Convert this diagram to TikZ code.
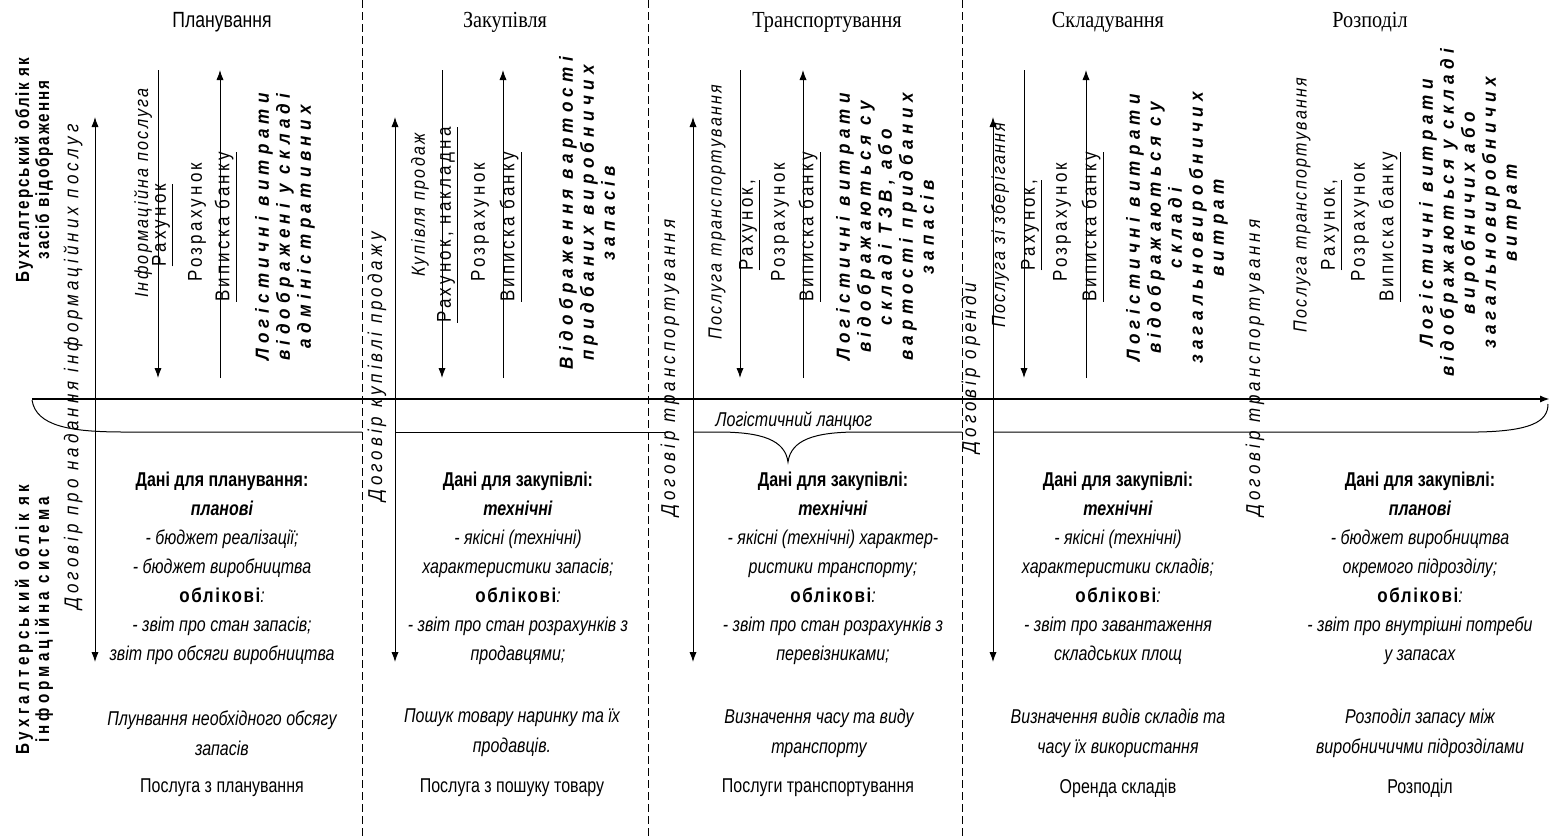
\documentclass[tikz,border=0pt]{standalone}
\usepackage{fontspec}
\setmainfont{Liberation Sans}[FakeStretch=0.8]
\newfontfamily\headserif{Liberation Serif}[FakeStretch=0.88]
\newfontfamily\spacedfont{Liberation Sans}[FakeStretch=0.85,LetterSpace=12]
\newfontfamily\docfont{Liberation Sans}[FakeStretch=0.85,LetterSpace=16]
\newfontfamily\contractfont{Liberation Sans}[FakeStretch=0.85,LetterSpace=20]
\newfontfamily\widefont{Liberation Sans}[FakeStretch=0.9,LetterSpace=28]
\newfontfamily\sidefont{Liberation Sans}[FakeStretch=0.8,LetterSpace=10]
\newfontfamily\sidewidefont{Liberation Sans}[FakeStretch=0.8,LetterSpace=22]
\newfontfamily\acctfont{Liberation Sans}[FakeStretch=0.85,LetterSpace=8]
\usetikzlibrary{arrows.meta}

\newcommand\kindof[1]{\textbf{\textit{#1}}}
\newcommand\acct{{\acctfont\bfseries облікові}\textit{:}}

\begin{document}
\begin{tikzpicture}[x=0.5pt,y=-0.5pt,>={Latex[length=5pt,width=3.6pt]},line width=0.5pt,
    head/.style={font=\headserif\fontsize{11.5}{13}\selectfont},
    vlab/.style={rotate=90,font=\spacedfont\itshape\fontsize{9.5}{11}\selectfont},
    vdoc/.style={rotate=90,font=\docfont\fontsize{10}{11}\selectfont},
    vbold/.style={rotate=90,align=center,font=\widefont\bfseries\itshape\fontsize{9.5}{10.5}\selectfont},
    contract/.style={rotate=90,font=\contractfont\itshape\fontsize{10}{11}\selectfont},
    side/.style={rotate=90,align=center,font=\sidefont\bfseries\fontsize{9.5}{7}\selectfont},
    data/.style={align=center,font=\fontsize{10}{14.5}\selectfont},
    task/.style={align=center,font=\itshape\fontsize{10}{15}\selectfont},
    service/.style={font=\fontsize{10}{12}\selectfont},
    sep/.style={dash pattern=on 4pt off 2pt}]
\useasboundingbox (0,0) rectangle (1554,837);

% section borders
\foreach \x in {362,648,962}
  \draw[sep] (\x,0) -- (\x,837);

% headers
\node[font=\normalfont\fontsize{11}{13}\selectfont] (h1) at (222,22) {Планування};
\node[head] (h2) at (505,22) {Закупівля};
\node[head] (h3) at (827,22) {Транспортування};
\node[head] (h4) at (1108,22) {Складування};
\node[head] (h5) at (1370,22) {Розподіл};

% side labels
\node[side] (up) at (34,170) {Бухгалтерський облік як\\засіб відображення};
\node[side,font=\sidewidefont\bfseries\fontsize{9.5}{7}\selectfont] (down) at (34,620) {Бухгалтерський облік як\\інформаційна система};

% contracts
\node[contract] (c1) at (73,367) {Договір про надання інформаційних послуг};
\node[contract] (c2) at (377,367) {Договір купівлі продажу};
\node[contract] (c3) at (670,368) {Договір транспортування};
\node[contract] (c4) at (971,368) {Договір оренди};
\node[contract] (c5) at (1255,368) {Договір транспортування};

% long arrows
\foreach \x in {95,395,693,993}
  \draw[<->] (\x,117) -- (\x,662);
% document flows
\foreach \x in {158,442,740,1024}
  \draw[->] (\x,70) -- (\x,378);
\foreach \x in {220,503,803,1086}
  \draw[->] (\x,378) -- (\x,70);

% planning
\node[vlab] (s1) at (143,193) {Інформаційна послуга};
\node[vdoc] (r1) at (163,225) {\underline{Рахунок}};
\node[vdoc] (p1) at (197,222) {Розрахунок};
\node[vdoc] (b1) at (226,227) {\underline{Виписка банку}};
\node[vbold] (l1) at (285,227) {Логістичні витрати\\відображені у складі\\адміністративних};

% purchase
\node[vlab] (s2) at (420,205) {Купівля продаж};
\node[vdoc] (r2) at (448,225) {\underline{Рахунок, накладна}};
\node[vdoc] (p2) at (480,222) {Розрахунок};
\node[vdoc] (b2) at (511,227) {\underline{Виписка банку}};
\node[vbold] (l2) at (587,213) {Відображення вартості\\придбаних виробничих\\запасів};

% transport
\node[vlab] (s3) at (717,212) {Послуга транспортування};
\node[vdoc] (r3) at (750,225) {\underline{Рахунок,}};
\node[vdoc] (p3) at (780,222) {Розрахунок};
\node[vdoc] (b3) at (810,227) {\underline{Виписка банку}};
\node[vbold] (l3) at (885,227) {Логістичні витрати\\відображаються су\\складі ТЗВ, або\\вартості придбаних\\запасів};

% storage
\node[vlab] (s4) at (1000,225) {Послуга зі зберігання};
\node[vdoc] (r4) at (1032,225) {\underline{Рахунок,}};
\node[vdoc] (p4) at (1062,222) {Розрахунок};
\node[vdoc] (b4) at (1093,227) {\underline{Виписка банку}};
\node[vbold] (l4) at (1177,228) {Логістичні витрати\\відображаються су\\складі\\загальновиробничих\\витрат};

% distribution
\node[vlab] (s5) at (1302,205) {Послуга транспортування};
\node[vdoc] (r5) at (1332,225) {\underline{Рахунок,}};
\node[vdoc] (p5) at (1360,222) {Розрахунок};
\node[vdoc] (b5) at (1390,227) {\underline{Виписка банку}};
\node[vbold] (l5) at (1470,213) {Логістичні витрати\\відображаються у складі\\виробничих або\\загальновиробничих\\витрат};

% chain
\draw (32,400) .. controls (36,426) and (70,432) .. (124,432) -- (362,432);
\draw (395,432) -- (668,432);
\draw (693,432) -- (718,432) .. controls (762,432) and (785,440) .. (788,462)
      .. controls (791,440) and (814,432) .. (858,432) -- (962,432);
\draw (993,432) -- (1478,432) .. controls (1530,431) and (1548,422) .. (1548,404);
\node[font=\itshape\fontsize{10}{12}\selectfont] (chain) at (794,421) {Логістичний ланцюг};
\draw[->,line width=1.2pt] (32,399) -- (1550,399);

% data
\node[data] (d1) at (222,568) {\textbf{Дані для планування:}\\\kindof{планові}\\\textit{- бюджет реалізації;}\\\textit{- бюджет виробництва}\\\acct\\\textit{- звіт про стан запасів;}\\\textit{звіт про обсяги виробництва}};
\node[data] (d2) at (518,568) {\textbf{Дані для закупівлі:}\\\kindof{технічні}\\\textit{- якісні (технічні)}\\\textit{характеристики запасів;}\\\acct\\\textit{- звіт про стан розрахунків з}\\\textit{продавцями;}};
\node[data] (d3) at (833,568) {\textbf{Дані для закупівлі:}\\\kindof{технічні}\\\textit{- якісні (технічні) характер-}\\\textit{ристики транспорту;}\\\acct\\\textit{- звіт про стан розрахунків з}\\\textit{перевізниками;}};
\node[data] (d4) at (1118,568) {\textbf{Дані для закупівлі:}\\\kindof{технічні}\\\textit{- якісні (технічні)}\\\textit{характеристики складів;}\\\acct\\\textit{- звіт про завантаження}\\\textit{складських площ}};
\node[data] (d5) at (1420,568) {\textbf{Дані для закупівлі:}\\\kindof{планові}\\\textit{- бюджет виробництва}\\\textit{окремого підрозділу;}\\\acct\\\textit{- звіт про внутрішні потреби}\\\textit{у запасах}};

% tasks
\node[task] (t1) at (222,733) {Плунвання необхідного обсягу\\запасів};
\node[task] (t2) at (512,733) {Пошук товару наринку та їх\\продавців.};
\node[task] (t3) at (819,733) {Визначення часу та виду\\транспорту};
\node[task] (t4) at (1118,733) {Визначення видів складів та\\часу їх використання};
\node[task] (t5) at (1420,733) {Розподіл запасу між\\виробничичми підрозділами};

% services
\node[service] (v1) at (222,788) {Послуга з планування};
\node[service] (v2) at (512,788) {Послуга з пошуку товару};
\node[service] (v3) at (818,788) {Послуги транспортування};
\node[service] (v4) at (1118,788) {Оренда складів};
\node[service] (v5) at (1420,788) {Розподіл};
\end{tikzpicture}
\end{document}
